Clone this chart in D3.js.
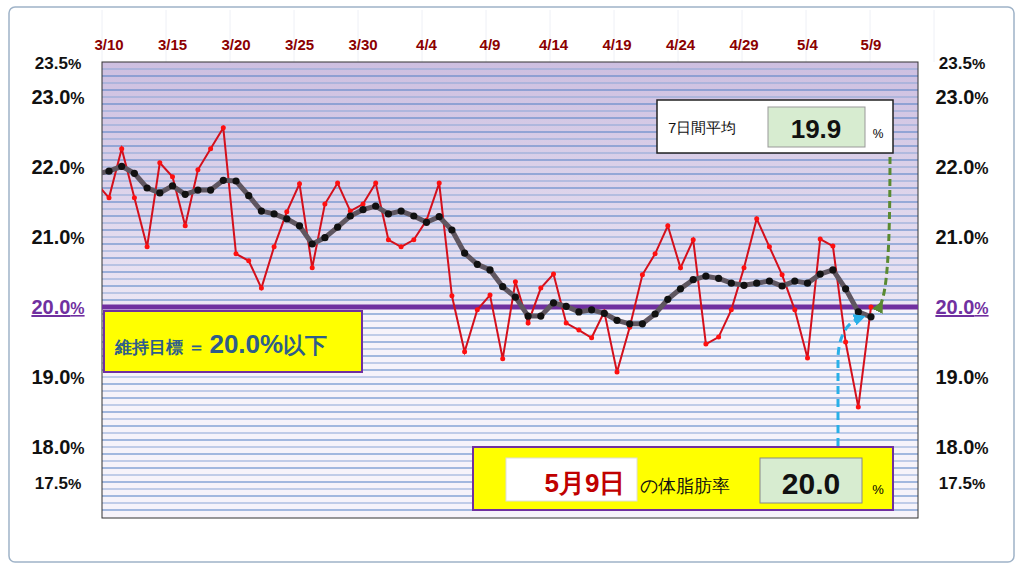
<!DOCTYPE html><html><head><meta charset="utf-8">
<script src="https://cdn.jsdelivr.net/npm/d3@7/dist/d3.min.js"></script>
<style>body{margin:0;background:#fff}svg{display:block}text{font-family:"Liberation Sans",Arial,sans-serif}</style></head><body>
<svg id="c" width="1024" height="572"></svg>
<script>
const dailyValues = [21.56,22.26,21.56,20.86,22.06,21.86,21.16,21.96,22.26,22.56,20.76,20.66,20.27,20.86,21.36,21.76,20.56,21.47,21.77,21.37,21.47,21.77,20.96,20.86,20.96,21.24,21.77,
20.16,19.36,19.96,20.17,19.26,20.36,19.77,20.27,20.47,19.77,19.67,19.56,19.93,19.07,19.71,20.46,20.76,21.16,20.56,20.96,19.47,19.57,19.96,20.56,21.26,20.86,20.46,19.96,19.27,20.97,20.87,19.5,18.57,20.0];
const avgValues = [21.94,22.01,21.91,21.7,21.63,21.73,21.61,21.67,21.67,21.81,21.8,21.59,21.37,21.33,21.26,21.16,20.9,20.99,21.14,21.3,21.39,21.44,21.33,21.37,21.3,21.21,21.29,
21.1,20.77,20.61,20.53,20.29,20.14,19.87,19.87,20.06,20.01,19.93,19.96,19.91,19.81,19.76,19.76,19.9,20.11,20.26,20.39,20.44,20.41,20.34,20.31,20.34,20.37,20.3,20.37,20.34,20.47,20.53,20.26,19.93,19.86];
const prevDaily = 21.77, prevAvg = 21.9;
const tickLabels = ["3/10","3/15","3/20","3/25","3/30","4/4","4/9","4/14","4/19","4/24","4/29","5/4","5/9"];
const yTicks = [23.5,23.0,22.0,21.0,20.0,19.0,18.0,17.5];
const target = 20.0, avg7 = "19.9", today = "20.0", todayLabel = "5月9日";

const svg = d3.select("#c");
const L=102,R=918,T=62,B=518;
const x = d3.scaleLinear().domain([0,60]).range([109,871]);
const y = d3.scaleLinear().domain([17,23.5]).range([517,62]);
const defs = svg.append("defs");
const g1 = defs.append("linearGradient").attr("id","pg").attr("x1",0).attr("x2",0).attr("y1",0).attr("y2",1);
g1.append("stop").attr("offset",0).attr("stop-color","#cdbfe0");
g1.append("stop").attr("offset",1).attr("stop-color","#ece6f4");
defs.append("clipPath").attr("id","cp").append("rect").attr("x",L).attr("y",T).attr("width",R-L).attr("height",B-T);
defs.append("marker").attr("id","ag").attr("viewBox","0 0 10 10").attr("refX",5).attr("refY",5).attr("markerWidth",4).attr("markerHeight",4).attr("orient","auto").append("path").attr("d","M0,0L10,5L0,10z").attr("fill","#5a8a32");
defs.append("marker").attr("id","ab").attr("viewBox","0 0 10 10").attr("refX",5).attr("refY",5).attr("markerWidth",4).attr("markerHeight",4).attr("orient","auto").append("path").attr("d","M0,0L10,5L0,10z").attr("fill","#29b0e8");

svg.append("rect").attr("x",9).attr("y",7).attr("width",1005).attr("height",555).attr("rx",6).attr("fill","#fff").attr("stroke","#9fb3c8").attr("stroke-width",1.5);
for(let i=0;i<14;i++) svg.append("line").attr("x1",L+i*64).attr("x2",L+i*64).attr("y1",10).attr("y2",T).attr("stroke","#eef0f6");
svg.append("rect").attr("x",L).attr("y",T).attr("width",R-L).attr("height",y(target)-T).attr("fill","url(#pg)");
svg.append("rect").attr("x",L).attr("y",y(target)).attr("width",R-L).attr("height",B-y(target)).attr("fill","#f6f3fa");
const grid = d3.range(171,235).map(d=>d/10);
svg.append("g").selectAll("line").data(grid).join("line")
 .attr("x1",L).attr("x2",R).attr("y1",d=>y(d)).attr("y2",d=>y(d))
 .attr("stroke",(d,i)=>i%2?"#8aa6d6":"#4f7fc4").attr("stroke-width",1.2);
svg.append("rect").attr("x",L).attr("y",T).attr("width",R-L).attr("height",B-T).attr("fill","none").attr("stroke","#333").attr("stroke-width",1);
svg.append("line").attr("x1",L).attr("x2",R).attr("y1",y(target)).attr("y2",y(target)).attr("stroke","#7030a0").attr("stroke-width",5);

const gp = svg.append("g").attr("clip-path","url(#cp)");
const dpts=[[-1,prevDaily]].concat(dailyValues.map((v,i)=>[i,v]));
const apts=[[-1,prevAvg]].concat(avgValues.map((v,i)=>[i,v]));
const line=d3.line().x(d=>x(d[0])).y(d=>y(d[1]));
gp.append("path").attr("d",line(dpts)).attr("fill","none").attr("stroke","#d4101c").attr("stroke-width",2);
gp.selectAll(".rd").data(dailyValues).join("circle").attr("cx",(d,i)=>x(i)).attr("cy",d=>y(d)).attr("r",2.5).attr("fill","#ff1010");
gp.append("path").attr("d",line(apts)).attr("fill","none").attr("stroke","#5f5660").attr("stroke-width",5);
gp.selectAll(".bd").data(avgValues).join("circle").attr("cx",(d,i)=>x(i)).attr("cy",d=>y(d)).attr("r",3.6).attr("fill","#111");

svg.selectAll(".dt").data(tickLabels).join("text").attr("x",(d,i)=>x(i*5)).attr("y",50).attr("text-anchor","middle")
 .attr("font-size",15).attr("font-weight","bold").attr("fill","#8b0000").text(d=>d);
[58,962].forEach(xx=>{
 svg.append("g").selectAll("text").data(yTicks).join("text")
  .attr("x",xx).attr("y",d=>y(d)+7).attr("text-anchor","middle")
  .attr("fill",d=>d===target?"#7030a0":"#111").attr("font-weight","bold")
  .attr("text-decoration",d=>d===target?"underline":null)
  .attr("font-size",d=>(d===23.5||d===17.5)?17:20)
  .html(d=>`${d.toFixed(1)}<tspan font-size="${(d===23.5||d===17.5)?15:16}">%</tspan>`);
});
// target box
svg.append("rect").attr("x",104).attr("y",311).attr("width",258).attr("height",61).attr("fill","#ffff00").attr("stroke","#7030a0").attr("stroke-width",2);
svg.append("text").attr("x",115).attr("y",353).attr("fill","#2e5d8a").attr("font-family","Noto Sans CJK JP").attr("font-weight","bold").attr("font-size",17)
 .html(`維持目標 ＝ <tspan font-size="26" font-family="Liberation Sans">${target.toFixed(1)}%</tspan><tspan font-size="22">以下</tspan>`);
// arrows
svg.append("path").attr("d","M880,306 C888,290 890,240 890,152").attr("fill","none").attr("stroke","#5a8a32").attr("stroke-width",3).attr("stroke-dasharray","7,4").attr("marker-start","url(#ag)");
svg.append("path").attr("d","M838,446 L838,360 C838,335 848,322 860,318").attr("fill","none").attr("stroke","#29b0e8").attr("stroke-width",3).attr("stroke-dasharray","8,5").attr("marker-end","url(#ab)");
// avg box
svg.append("rect").attr("x",657).attr("y",100).attr("width",236).attr("height",53).attr("fill","#fff").attr("stroke","#222").attr("stroke-width",1.5);
svg.append("text").attr("x",668).attr("y",133).attr("font-family","Noto Sans CJK JP").attr("font-size",15).attr("fill","#111").text("7日間平均");
svg.append("rect").attr("x",768).attr("y",107).attr("width",97).attr("height",40).attr("fill","#d7ecd0").attr("stroke","#999");
svg.append("text").attr("x",816).attr("y",138).attr("text-anchor","middle").attr("font-size",26).attr("font-weight","bold").attr("fill","#111").text(avg7);
svg.append("text").attr("x",878).attr("y",138).attr("text-anchor","middle").attr("font-size",12).text("%");
// today box
svg.append("rect").attr("x",473).attr("y",447).attr("width",420).attr("height",63).attr("fill","#ffff00").attr("stroke","#7030a0").attr("stroke-width",2);
svg.append("rect").attr("x",506).attr("y",458).attr("width",131).attr("height",43).attr("fill","#fff").attr("stroke","#ddd");
svg.append("text").attr("x",585).attr("y",492).attr("text-anchor","middle").attr("font-family","Noto Sans CJK JP").attr("font-weight","bold").attr("font-size",26).attr("fill","#c00000").text(todayLabel);
svg.append("text").attr("x",640).attr("y",492).attr("font-family","Noto Sans CJK JP").attr("font-size",18).attr("fill","#111").text("の体脂肪率");
svg.append("rect").attr("x",760).attr("y",458).attr("width",102).attr("height",45).attr("fill","#d7ecd0").attr("stroke","#888");
svg.append("text").attr("x",811).attr("y",494).attr("text-anchor","middle").attr("font-size",30).attr("font-weight","bold").attr("fill","#111").text(today);
svg.append("text").attr("x",878).attr("y",494).attr("text-anchor","middle").attr("font-size",13).text("%");
</script></body></html>
